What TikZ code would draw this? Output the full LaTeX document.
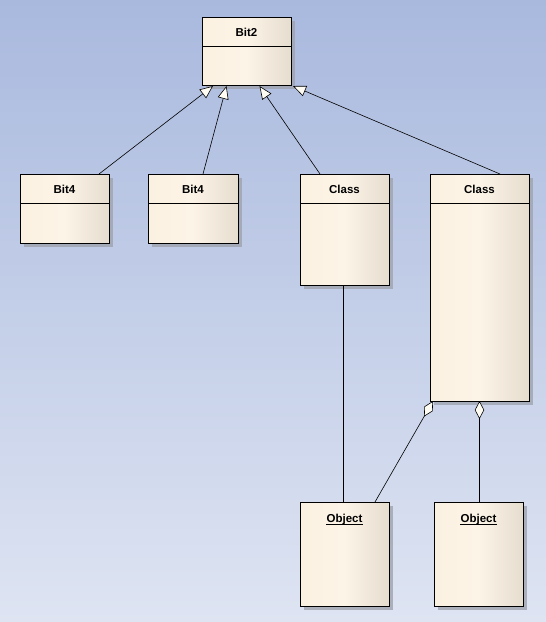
\documentclass[tikz,border=0pt]{standalone}
\usepackage{fontspec}
\setmainfont{Liberation Sans}
\usetikzlibrary{arrows.meta,shadows}
\definecolor{bgtop}{HTML}{A9B9DE}
\definecolor{bgbot}{HTML}{DEE4F2}
\definecolor{boxleft}{HTML}{FBF1E1}
\definecolor{boxmid}{HTML}{FCF4E7}
\definecolor{boxright}{HTML}{E6DDCF}
\definecolor{shadowc}{HTML}{9FA3AE}
\definecolor{tipfill}{HTML}{FFFDF3}
\tikzset{
  umlbox/.style={draw=black, line width=1pt, rectangle, inner sep=0pt, outer sep=0pt,
    left color=boxleft, right color=boxright, middle color=boxmid,
    drop shadow={shadow xshift=3.5pt, shadow yshift=-3.5pt, fill=shadowc, opacity=0.8}},
  umltitle/.style={font=\fontsize{11.5}{13}\selectfont\bfseries, inner sep=0pt},
  gen/.style={draw=black, line width=0.6pt, -{Triangle[open, length=13pt, width=11pt, fill=tipfill]}},
  agg/.style={draw=black, line width=0.6pt, {Diamond[open, length=18pt, width=9.5pt, fill=tipfill]}-},
  plainline/.style={draw=black, line width=0.6pt},
}
\begin{document}
\begin{tikzpicture}[x=1pt,y=-1pt]
\shade[top color=bgtop, bottom color=bgbot] (0,0) rectangle (546,622);
\useasboundingbox (0,0) rectangle (546,622);

% boxes
\node[umlbox, minimum width=89pt, minimum height=68pt] (b2) at (246.5,51) {};
\node[umlbox, minimum width=89pt, minimum height=69pt] (b4a) at (64.5,208.5) {};
\node[umlbox, minimum width=90pt, minimum height=69pt] (b4b) at (193,208.5) {};
\node[umlbox, minimum width=89pt, minimum height=111pt] (c1) at (344.5,229.5) {};
\node[umlbox, minimum width=99pt, minimum height=227pt] (c2) at (479.5,287.5) {};
\node[umlbox, minimum width=89pt, minimum height=104pt] (o1) at (344.5,554) {};
\node[umlbox, minimum width=89pt, minimum height=104pt] (o2) at (478.5,554) {};

% compartment lines
\foreach \n in {b2,b4a,b4b,c1,c2}
  \draw[line width=1pt] ([yshift=-29pt]\n.north west) -- ([yshift=-29pt]\n.north east);

% titles
\node[umltitle] (tb2) at ([yshift=-15pt]b2.north) {Bit2};
\node[umltitle] (tb4a) at ([yshift=-15pt]b4a.north) {Bit4};
\node[umltitle] (tb4b) at ([yshift=-15pt]b4b.north) {Bit4};
\node[umltitle] (tc1) at ([yshift=-15pt]c1.north) {Class};
\node[umltitle] (tc2) at ([yshift=-15pt]c2.north) {Class};
\node[umltitle, anchor=base] (to1) at ([yshift=-20.5pt]o1.north) {Object};
\node[umltitle, anchor=base] (to2) at ([yshift=-20.5pt]o2.north) {Object};
\draw[line width=0.8pt] ([yshift=-1.8pt]to1.base west) -- ([yshift=-1.8pt]to1.base east);
\draw[line width=0.8pt] ([yshift=-1.8pt]to2.base west) -- ([yshift=-1.8pt]to2.base east);

% generalizations
\draw[gen] ([xshift=34.5pt]b4a.north) -- ([xshift=-33.5pt,yshift=-1pt]b2.south);
\draw[gen] ([xshift=10pt]b4b.north) -- ([xshift=-20pt,yshift=-1pt]b2.south);
\draw[gen] ([xshift=-24.5pt]c1.north) -- ([xshift=13pt,yshift=-1pt]b2.south);
\draw[gen] ([xshift=20.5pt]c2.north) -- ([xshift=46.5pt,yshift=-1pt]b2.south);

% associations
\draw[plainline] ([xshift=-1.5pt]c1.south) -- ([xshift=-1.5pt]o1.north);
\draw[agg] ([xshift=-46.5pt]c2.south) -- ([xshift=30.5pt]o1.north);
\draw[agg] (c2.south) -- ([xshift=1pt]o2.north);
\end{tikzpicture}
\end{document}
